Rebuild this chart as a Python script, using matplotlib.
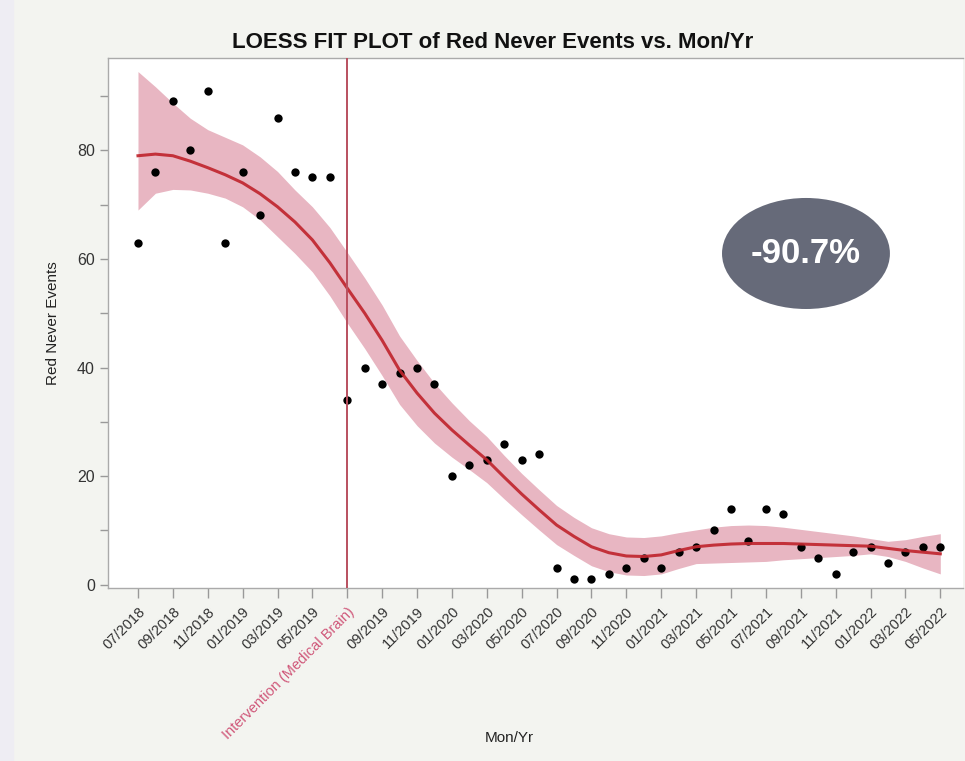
import numpy as np
import matplotlib.pyplot as plt
from matplotlib.patches import Ellipse, Rectangle

plt.rcParams['font.family'] = ['Liberation Sans', 'DejaVu Sans']

# monthly values 07/2018 .. 05/2022 (47 months)
events = [63, 76, 89, 80, 91, 63, 76, 68, 86, 76, 75, 75,
          34, 40, 37, 39, 40, 37, 20, 22, 23, 26, 23, 24,
          3, 1, 1, 2, 3, 5, 3, 6, 7, 10, 14, 8, 14, 13, 7, 5, 2, 6, 7, 4, 6, 7, 7]

loess_fit = [79.0, 79.3, 79.0, 78.0, 76.8, 75.5, 74.0, 72.0, 69.6, 66.8, 63.5, 59.3, 54.6,
             50.0, 45.0, 39.5, 35.3, 31.6, 28.5, 25.7, 23.0,
             19.8, 16.7, 13.8, 11.0, 8.9, 7.0, 5.9, 5.3,
             5.2, 5.5, 6.3, 7.0, 7.3, 7.5, 7.6, 7.6, 7.6, 7.5, 7.4, 7.3, 7.2, 7.1, 6.7, 6.3, 6.0, 5.7]

ci_upper = [94.5, 91.7, 88.7, 85.9, 83.8, 82.4, 81.0, 78.8, 76.1, 72.7, 69.6, 65.8, 61.2,
            56.5, 51.5, 45.8, 41.3, 37.1, 33.5, 30.2, 27.3,
            23.8, 20.5, 17.5, 14.6, 12.4, 10.5, 9.4, 8.8,
            8.7, 9.0, 9.6, 10.1, 10.6, 10.9, 11.0, 10.9, 10.6, 10.2, 9.8, 9.4, 9.0, 8.5, 8.0, 8.3, 8.9, 9.4]

ci_lower = [69.0, 72.1, 72.8, 72.7, 72.1, 71.2, 69.6, 67.2, 64.1, 61.0, 57.6, 53.2, 48.2,
            43.5, 38.5, 33.2, 29.3, 26.1, 23.5, 21.2, 18.8,
            15.8, 12.9, 10.1, 7.4, 5.4, 3.5, 2.4, 1.8,
            1.7, 2.0, 3.0, 3.9, 4.0, 4.1, 4.2, 4.3, 4.6, 4.8, 5.0, 5.2, 5.4, 5.7, 5.2, 4.3, 3.1, 2.0]

tick_labels = ['07/2018', '09/2018', '11/2018', '01/2019', '03/2019', '05/2019',
               'Intervention (Medical Brain)', '09/2019', '11/2019', '01/2020', '03/2020',
               '05/2020', '07/2020', '09/2020', '11/2020', '01/2021', '03/2021', '05/2021',
               '07/2021', '09/2021', '11/2021', '01/2022', '03/2022', '05/2022']
intervention_month = 12
change_text = '-90.7%'

months = np.arange(len(events))

fig = plt.figure(figsize=(9.65, 7.61), dpi=100)
fig.patch.set_facecolor('#f3f4f0')
# faint lighter strip at the left edge of the screenshot
fig.patches.append(Rectangle((0, 0), 0.013, 1, transform=fig.transFigure,
                             color='#eeedf3', zorder=0))

ax = fig.add_axes([0.1119, 0.2273, 0.886, 0.6965])
ax.set_facecolor('white')

ax.fill_between(months, ci_lower, ci_upper, color='#e8b6c2', lw=0, zorder=1)
ax.scatter(months, events, s=36, color='black', zorder=2, lw=0)
ax.plot(months, loess_fit, color='#c0262e', lw=2.2, alpha=0.92, zorder=3,
        solid_joinstyle='round')
ax.axvline(intervention_month, color='#b9505f', lw=1.4, zorder=4)

ax.set_xlim(-1.72, 47.3)
ax.set_ylim(-0.6, 97)

ax.set_xticks(months[::2])
ax.set_xticklabels(tick_labels, rotation=45, ha='right', rotation_mode='anchor')
ax.set_yticks([0, 20, 40, 60, 80])
ax.set_yticks(np.arange(10, 100, 20), minor=True)
ax.tick_params(axis='y', labelsize=11.5, colors='#999999', labelcolor='#333333',
               length=6, width=1)
ax.tick_params(axis='y', which='minor', colors='#999999', length=6, width=1)
ax.tick_params(axis='x', colors='#999999', labelcolor='#333333', labelsize=10.5,
               length=7, width=1, pad=5)
ax.get_xticklabels()[6].set_color('#d0587a')
ax.get_xticklines()[12].set_color('#b9505f')

for sp in ax.spines.values():
    sp.set_color('#aaaaaa')
    sp.set_linewidth(1)
ax.spines['right'].set_visible(False)

ax.set_ylabel('Red Never Events', fontsize=11, color='#222222', labelpad=12)
fig.text(0.528, 0.021, 'Mon/Yr', ha='center', va='bottom', fontsize=11, color='#222222')
fig.text(0.51, 0.944, 'LOESS FIT PLOT of Red Never Events vs. Mon/Yr', ha='center',
         va='center', fontsize=16, fontweight='bold', color='#111111')

badge = Ellipse((0.8352, 0.6669), 0.174, 0.1459, transform=fig.transFigure,
                facecolor='#666a79', edgecolor='none', zorder=5)
fig.patches.append(badge)
fig.text(0.8352, 0.6669, change_text, ha='center', va='center', fontsize=25,
         fontweight='bold', color='white', zorder=6)

fig.savefig('out.png', dpi=100, facecolor=fig.get_facecolor())
